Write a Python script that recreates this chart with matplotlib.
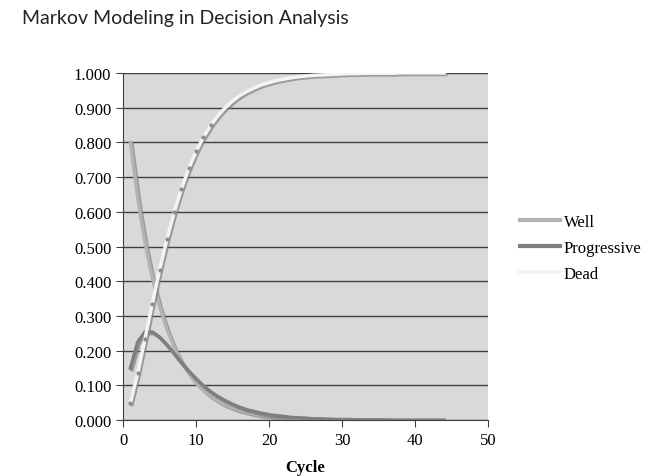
import numpy as np
import matplotlib.pyplot as plt
import matplotlib.patheffects as pe

cycle = list(range(1, 45))
well = [0.800, 0.640, 0.512, 0.410, 0.328, 0.262, 0.210, 0.168, 0.134, 0.107,
        0.086, 0.069, 0.055, 0.044, 0.035, 0.028, 0.023, 0.018, 0.014, 0.012,
        0.009, 0.007, 0.006, 0.005, 0.004, 0.003, 0.002, 0.002, 0.002, 0.001,
        0.001, 0.001, 0.001, 0.001, 0.000, 0.000, 0.000, 0.000, 0.000, 0.000,
        0.000, 0.000, 0.000, 0.000]
progressive = [0.150, 0.225, 0.254, 0.254, 0.239, 0.217, 0.191, 0.165, 0.141, 0.119,
               0.099, 0.082, 0.068, 0.056, 0.046, 0.037, 0.030, 0.025, 0.020, 0.016,
               0.013, 0.011, 0.008, 0.007, 0.006, 0.004, 0.004, 0.003, 0.002, 0.002,
               0.002, 0.001, 0.001, 0.001, 0.001, 0.001, 0.000, 0.000, 0.000, 0.000,
               0.000, 0.000, 0.000, 0.000]
dead = [0.050, 0.135, 0.235, 0.336, 0.433, 0.521, 0.599, 0.667, 0.725, 0.774,
        0.815, 0.849, 0.877, 0.900, 0.919, 0.935, 0.947, 0.957, 0.966, 0.972,
        0.978, 0.982, 0.986, 0.989, 0.991, 0.993, 0.994, 0.995, 0.996, 0.997,
        0.998, 0.998, 0.999, 0.999, 0.999, 0.999, 0.999, 1.000, 1.000, 1.000,
        1.000, 1.000, 1.000, 1.000]

serif = ['Liberation Serif', 'DejaVu Serif']

fig = plt.figure(figsize=(6.48, 4.77), dpi=100)
ax = fig.add_axes([0.19, 0.117, 0.563, 0.728])
ax.set_facecolor('#d9d9d9')

shadow = [pe.SimpleLineShadow(offset=(1.2, -1.2), shadow_color='#808080', alpha=0.7), pe.Normal()]
ax.plot(cycle, well, color='#b3b3b3', lw=2.5, label='Well', path_effects=shadow, zorder=3)
ax.plot(cycle, progressive, color='#7f7f7f', lw=2.5, label='Progressive', path_effects=shadow, zorder=3)
ax.plot(cycle, dead, color='#f4f4f4', lw=2.5, label='Dead', path_effects=shadow, zorder=4)
ax.plot(cycle[:12], dead[:12], ls='none', marker='o', ms=2, color='#8c8c8c', zorder=5)

ax.set_xlim(0, 50)
ax.set_ylim(0, 1)
ax.set_xticks(np.arange(0, 51, 10))
ax.set_yticks(np.arange(0, 1.01, 0.1))
ax.set_yticklabels(['%.3f' % v for v in np.arange(0, 1.01, 0.1)])
ax.grid(axis='y', color='#404040', lw=1)
ax.set_axisbelow(True)
for s in ['top', 'right']:
    ax.spines[s].set_visible(False)
for s in ['left', 'bottom']:
    ax.spines[s].set_color('#404040')
ax.tick_params(direction='out', length=5, color='#404040', labelsize=12)
for lab in ax.get_xticklabels() + ax.get_yticklabels():
    lab.set_family(serif)
ax.set_xlabel('Cycle', fontsize=12, fontweight='bold', family=serif, labelpad=8)

leg = fig.legend(loc='center left', bbox_to_anchor=(0.802, 0.478), frameon=False,
                 prop={'family': serif, 'size': 12}, handlelength=2.4,
                 handletextpad=0.25, labelspacing=0.6, borderpad=0, borderaxespad=0)
for h in leg.get_lines():
    h.set_path_effects([])
    h.set_linewidth(3)

fig.text(0.034, 0.962, 'Markov Modeling in Decision Analysis', fontsize=14,
         family=['Lato', 'DejaVu Sans'], color='#222222', va='center')

plt.savefig('out.png')
